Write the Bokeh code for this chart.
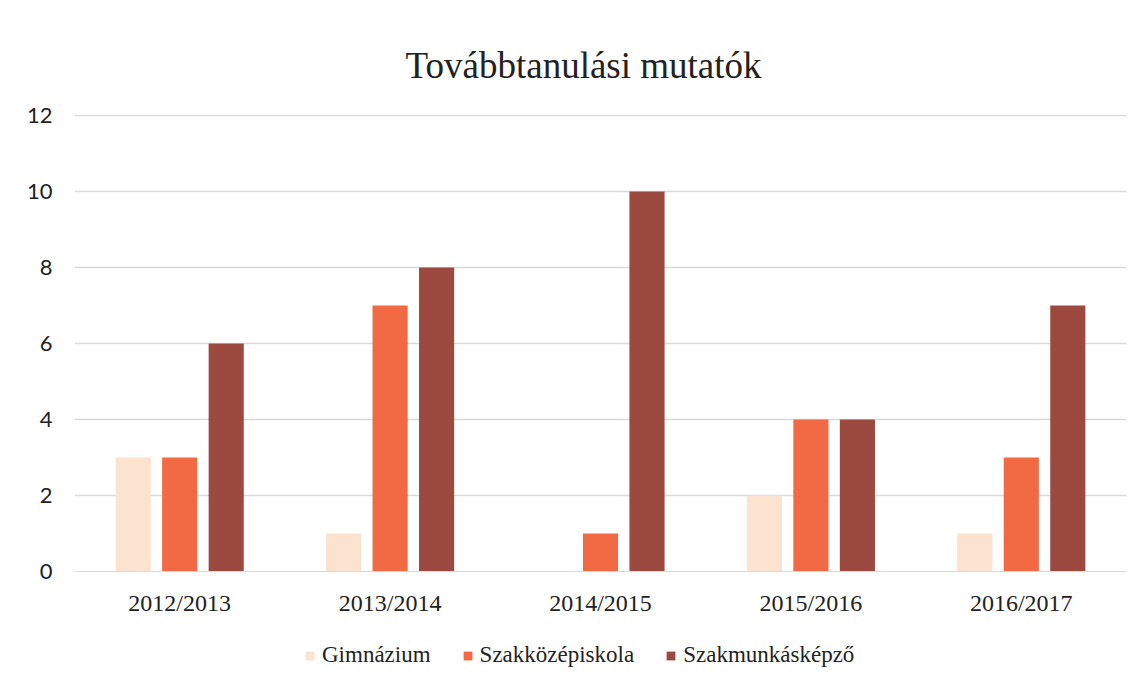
from bokeh.plotting import figure
from bokeh.layouts import column
from bokeh.models import ColumnDataSource, FactorRange, Legend, LegendItem, Title
from bokeh.transform import dodge
from bokeh.embed import file_html
from bokeh.resources import INLINE

years = ["2012/2013", "2013/2014", "2014/2015", "2015/2016", "2016/2017"]
gimnazium = [3, 1, 0, 2, 1]
szakkozep = [3, 7, 1, 4, 3]
szakmunkas = [6, 8, 10, 4, 7]
series_names = ["Gimnázium", "Szakközépiskola", "Szakmunkásképző"]
colors = ["#FBE3CF", "#F26A43", "#9C4A3F"]
y_ticks = [0, 2, 4, 6, 8, 10, 12]

src = ColumnDataSource(dict(years=years, g=gimnazium, s=szakkozep, m=szakmunkas))

p = figure(x_range=FactorRange(*years, range_padding=0), y_range=(0, 12.03),
           width=1130, height=620, output_backend="svg", toolbar_location=None,
           min_border_left=74, min_border_right=4, min_border_top=114, min_border_bottom=49)
p.title = Title(text="Továbbtanulási mutatók", align="left", offset=331, text_font="Liberation Serif",
                text_font_size="37px", text_font_style="normal", text_color="#222222",
                standoff=57)

renderers = []
for col, off, c in zip(["g", "s", "m"], [-0.221, 0.0, 0.221], colors):
    r = p.vbar(x=dodge("years", off, range=p.x_range), top=col, width=0.167, source=src,
               fill_color=c, line_color=None)
    renderers.append(r)

p.outline_line_color = None
p.xgrid.grid_line_color = None
p.ygrid.grid_line_color = "#DADADA"
p.ygrid.grid_line_width = 1.5
p.yaxis.ticker = y_ticks
p.yaxis.axis_line_color = None
p.yaxis.major_tick_line_color = None
p.yaxis.minor_tick_line_color = None
p.yaxis.major_label_text_font = "Lato"
p.yaxis.major_label_text_font_size = "22px"
p.yaxis.major_label_text_color = "#222222"
p.yaxis.major_label_standoff = 16
p.xaxis.axis_line_color = "#DADADA"
p.xaxis.major_tick_line_color = None
p.xaxis.minor_tick_line_color = None
p.xaxis.major_label_text_font = "Liberation Serif"
p.xaxis.major_label_text_font_size = "24px"
p.xaxis.major_label_text_color = "#222222"
p.xaxis.major_label_standoff = 12
p.xaxis.group_text_font_size = "0px"

# legend strip
lg = figure(width=1130, height=59, x_range=(0, 1), y_range=(0, 1), output_backend="svg",
            toolbar_location=None, min_border=0)
lg.axis.visible = False
lg.grid.grid_line_color = None
lg.outline_line_color = None
offscreen = ColumnDataSource(dict(x=[-50], top=[-50]))
lrs = [lg.vbar(x="x", top="top", bottom=-60, width=0.1, source=offscreen, fill_color=c, line_color=None)
       for c in colors]
legend = Legend(items=[LegendItem(label=n, renderers=[r]) for n, r in zip(series_names, lrs)],
                orientation="horizontal", location=(230, 11), label_text_font="Liberation Serif",
                label_text_font_size="23px", label_text_color="#222222", glyph_width=11, glyph_height=11,
                label_standoff=7, spacing=31, border_line_color=None, background_fill_alpha=0,
                margin=0, padding=4)
lg.add_layout(legend, "center")

layout = column(p, lg, spacing=0)
open("out.html", "w").write(file_html(layout, INLINE))
